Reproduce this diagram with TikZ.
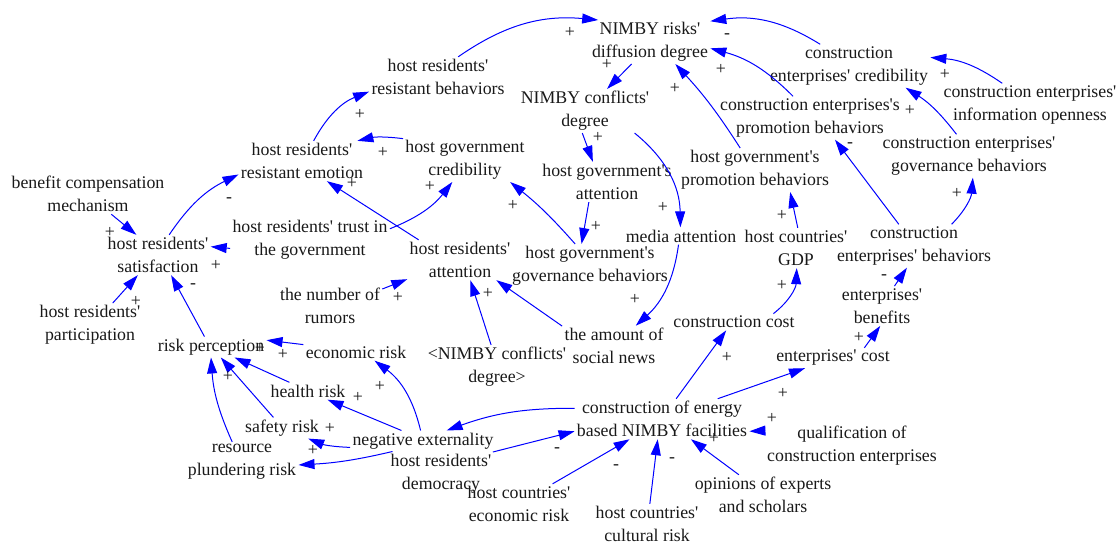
\documentclass[tikz,border=0pt]{standalone}
\usepackage{fontspec}
\setmainfont{Liberation Serif}[Ligatures=TeXOff]
\usetikzlibrary{arrows.meta}

\begin{document}
\begin{tikzpicture}[x=0.5pt,y=0.5pt,
    var/.style={align=center,inner sep=1pt,text=black!90,font=\fontsize{8.9}{11.5}\selectfont},
    pol/.style={inner sep=0pt,text=black!90,font=\fontsize{8.9}{11.5}\selectfont},
    lnk/.style={color=blue,line width=0.5pt,-{Triangle[length=8pt,width=5pt]}}]
    \useasboundingbox (0,0) rectangle (1118,-545);
    % variables
    \node[var] (nrd) at (650,-42) {NIMBY risks'\\diffusion degree};
    \node[var] (cec) at (849,-66) {construction\\enterprises' credibility};
    \node[var] (cio) at (1030,-105) {construction enterprises'\\information openness};
    \node[var] (hrb) at (438,-77) {host residents'\\resistant behaviors};
    \node[var] (ncd) at (585,-111) {NIMBY conflicts'\\degree};
    \node[var] (cpb) at (810,-118) {construction enterprises's\\promotion behaviors};
    \node[var] (cgb) at (969,-156) {construction enterprises'\\governance behaviors};
    \node[var] (hgc) at (465,-160) {host government\\credibility};
    \node[var] (hre) at (302,-161) {host residents'\\resistant emotion};
    \node[var] (hga) at (607,-182) {host government's\\attention};
    \node[var] (hgp) at (755,-170) {host government's\\promotion behaviors};
    \node[var] (bcm) at (88,-194) {benefit compensation\\mechanism};
    \node[var] (hrs) at (158,-255) {host residents'\\satisfaction};
    \node[var] (hrt) at (310,-240) {host residents' trust in\\the government};
    \node[var] (hra) at (460,-260) {host residents'\\attention};
    \node[var] (hgg) at (590,-266) {host government's\\governance behaviors};
    \node[var] (mda) at (681,-236) {media attention};
    \node[var] (gdp) at (796,-248) {host countries'\\GDP};
    \node[var] (ceb) at (914,-246) {construction\\enterprises' behaviors};
    \node[var] (rum) at (330,-306) {the number of\\rumors};
    \node[var] (ebn) at (882,-306) {enterprises'\\benefits};
    \node[var] (cco) at (734,-322) {construction cost};
    \node[var] (hrp) at (90,-325) {host residents'\\participation};
    \node[var] (rpc) at (211,-347) {risk perception};
    \node[var] (ecr) at (356,-352) {economic risk};
    \node[var] (ncr) at (497,-367) {<NIMBY conflicts'\\degree>};
    \node[var] (asn) at (614,-346) {the amount of\\social news};
    \node[var] (eco) at (833,-358) {enterprises' cost};
    \node[var] (hlr) at (308,-391) {health risk};
    \node[var] (sfr) at (282,-428) {safety risk};
    \node[var] (rpr) at (242,-462) {resource\\plundering risk};
    \node[var] (nex) at (423,-441) {negative externality};
    \node[var] (hrd) at (441,-474) {host residents'\\democracy};
    \node[var] (cnf) at (662,-419) {construction of energy\\based NIMBY facilities};
    \node[var] (qce) at (852,-446) {qualification of\\construction enterprises};
    \node[var] (her) at (519,-504) {host countries'\\economic risk};
    \node[var] (hcr) at (647,-524) {host countries'\\cultural risk};
    \node[var] (oes) at (763,-495) {opinions of experts\\and scholars};
    % causal links
    \draw[lnk] (hrb.45) to[bend left=20] (nrd.157);
    \draw[lnk] (cec.143) to[bend right=20] (nrd.19);
    \draw[lnk] (cpb.128) to[bend right=15] (nrd.-6);
    \draw[lnk] (hgp.124) to[bend right=5] (nrd.-41);
    \draw[lnk] (nrd.-130) -- (ncd.45);
    \draw[lnk] (cio.142) to[bend right=15] (cec.6);
    \draw[lnk] (cgb.120) to[bend right=10] (cec.-21);
    \draw[lnk] (ceb.125) -- (cpb.-41);
    \draw[lnk] (ceb.30) to[bend right=20] (cgb.-80);
    \draw[lnk] (gdp.85) -- (hgp.-32);
    \draw[lnk] (ncd.-97) -- (hga.125);
    \draw[lnk] (ncd.-24) to[bend left=25] (mda.94);
    \draw[lnk] (hgc.161) to[bend right=10] (hre.20);
    \draw[lnk] (hre.60) to[bend left=20] (hrb.192);
    \draw[lnk] (hrs.61) to[bend left=15] (hre.192);
    \draw[lnk] (bcm.-41) -- (hrs.137);
    \draw[lnk] (hrt.-174) -- (hrs.9);
    \draw[lnk] (hrt.8) to[bend right=15] (hgc.-120);
    \draw[lnk] (hra.154) -- (hre.-39);
    \draw[lnk] (hgg.124) to[bend right=5] (hgc.-26);
    \draw[lnk] (hga.-132) -- (hgg.111);
    \draw[lnk] (mda.-106) to[bend left=20] (asn.43);
    \draw[lnk] (asn.159) -- (hra.-29);
    \draw[lnk] (ncr.105) -- (hra.-63);
    \draw[lnk] (rum.18) -- (hra.-160);
    \draw[lnk] (cnf.55) -- (cco.-133);
    \draw[lnk] (cco.12) to[bend right=25] (gdp.-88);
    \draw[lnk] (ebn.58) -- (ceb.-108);
    \draw[lnk] (eco.18) -- (ebn.-95);
    \draw[lnk] (cnf.20) -- (eco.-160);
    \draw[lnk] (qce.170) -- (cnf.-8);
    \draw[lnk] (oes.140) -- (cnf.-35);
    \draw[lnk] (hcr.82) -- (cnf.-102);
    \draw[lnk] (her.31) -- (cnf.-148);
    \draw[lnk] (hrd.23) -- (cnf.-172);
    \draw[lnk] (cnf.173) to[bend right=10] (nex.24);
    \draw[lnk] (nex.103) to[bend right=20] (ecr.-25);
    \draw[lnk] (nex.154) -- (hlr.-24);
    \draw[lnk] (nex.-175) to[bend left=10] (sfr.-22);
    \draw[lnk] (nex.-161) to[bend left=5] (rpr.-3);
    \draw[lnk] (ecr.172) -- (rpc.7);
    \draw[lnk] (hlr.155) -- (rpc.-24);
    \draw[lnk] (sfr.129) -- (rpc.-47);
    \draw[lnk] (rpr.116) to[bend left=10] (rpc.-90);
    \draw[lnk] (rpc.122) -- (hrs.-57);
    \draw[lnk] (hrp.44) -- (hrs.-135);
    % polarities
    \foreach \x/\y/\s [count=\i] in {570/32/+, 727/36/-, 721/69/+, 675/88/+, 607/64/+,
        945/74/+, 910/110/+, 850/145/-, 957/193/+, 782/215/+, 598/137/+, 663/207/+,
        383/152/+, 360/114/+, 229/200/-, 110/232/+, 216/265/+, 430/186/+, 352/183/+,
        513/205/+, 596/226/+, 635/299/+, 488/293/+, 398/297/+, 727/357/+, 782/285/+,
        884/277/-, 859/337/+, 783/393/+, 772/418/+, 714/438/+, 672/460/-, 616/467/-,
        557/450/-, 380/386/+, 358/397/+, 330/428/+, 313/450/+, 283/354/+, 260/348/+,
        228/376/+, 193/286/-, 136/301/+}
        \node[pol] (s\i) at (\x,-\y) {\s};
\end{tikzpicture}
\end{document}
